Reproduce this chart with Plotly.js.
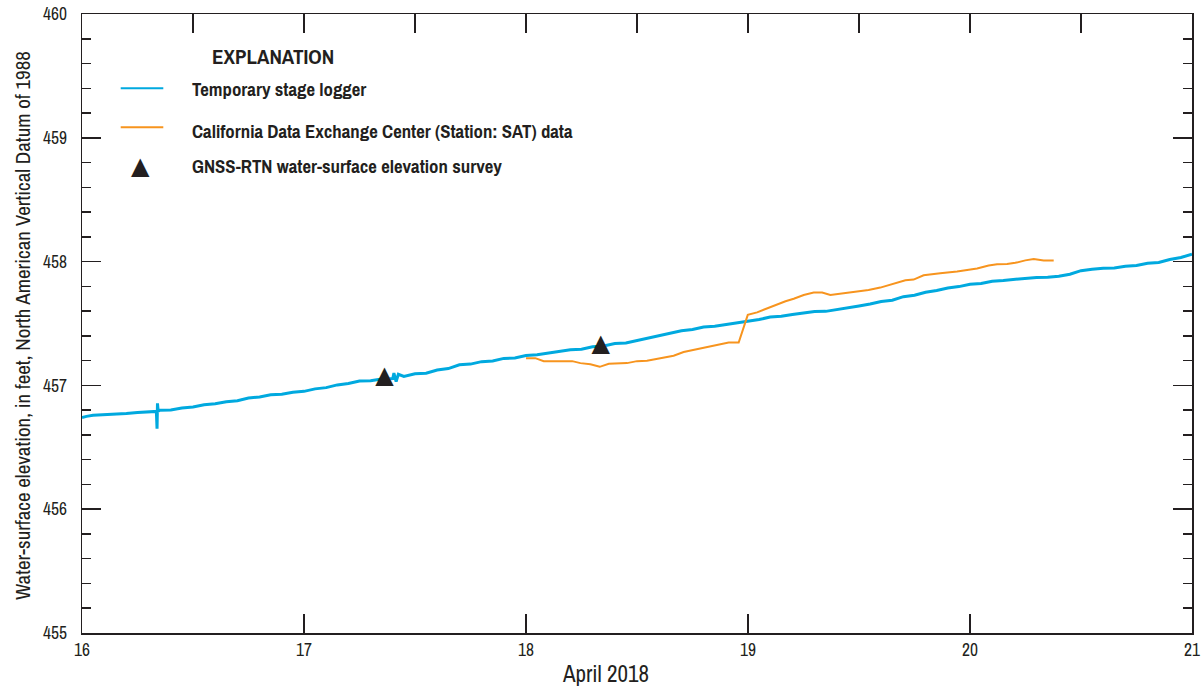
<!DOCTYPE html>
<html>
<head>
<meta charset="utf-8">
<script src="https://cdn.plot.ly/plotly-3.0.1.min.js"></script>
<style>
  html, body { margin: 0; padding: 0; background: #ffffff; }
  #chart { width: 1201px; height: 694px; }
</style>
</head>
<body>
<div id="chart"></div>
<script>
// Temporary stage logger record (day of April 2018, feet NAVD 88)
const loggerDay = [
  16.00, 16.02, 16.05, 16.10, 16.15, 16.20, 16.25, 16.30, 16.335, 16.338, 16.340, 16.343,
  16.35, 16.40, 16.45, 16.50, 16.55, 16.60, 16.65, 16.70, 16.75, 16.80, 16.85, 16.90, 16.95,
  17.00, 17.05, 17.10, 17.15, 17.20, 17.25, 17.30, 17.35, 17.40, 17.405, 17.415, 17.425,
  17.45, 17.50, 17.55, 17.60, 17.65, 17.70, 17.75, 17.80, 17.85, 17.90, 17.95,
  18.00, 18.05, 18.10, 18.15, 18.20, 18.25, 18.30, 18.35, 18.40, 18.45, 18.50, 18.55,
  18.60, 18.65, 18.70, 18.75, 18.80, 18.85, 18.90, 18.95,
  19.00, 19.05, 19.10, 19.15, 19.20, 19.25, 19.30, 19.35, 19.40, 19.45, 19.50, 19.55,
  19.60, 19.65, 19.70, 19.75, 19.80, 19.85, 19.90, 19.95,
  20.00, 20.05, 20.10, 20.15, 20.20, 20.25, 20.30, 20.35, 20.40, 20.45, 20.50, 20.55,
  20.60, 20.65, 20.70, 20.75, 20.80, 20.85, 20.90, 20.95, 21.00
];
const loggerElev = [
  456.740, 456.750, 456.758, 456.762, 456.772, 456.774, 456.782, 456.784, 456.790, 456.650, 456.855, 456.792,
  456.800, 456.802, 456.818, 456.826, 456.844, 456.852, 456.868, 456.876, 456.898, 456.906, 456.924, 456.928, 456.944,
  456.952, 456.972, 456.982, 457.004, 457.016, 457.036, 457.038, 457.052, 457.056, 457.100, 457.030, 457.090,
  457.072, 457.094, 457.098, 457.124, 457.136, 457.166, 457.172, 457.192, 457.198, 457.218, 457.222,
  457.242, 457.248, 457.262, 457.272, 457.288, 457.292, 457.312, 457.318, 457.338, 457.342, 457.362, 457.378,
  457.402, 457.418, 457.442, 457.452, 457.472, 457.478, 457.492, 457.503,
  457.522, 457.532, 457.552, 457.558, 457.572, 457.583, 457.597, 457.598, 457.612, 457.622, 457.642, 457.658,
  457.677, 457.688, 457.717, 457.728, 457.752, 457.767, 457.787, 457.798,
  457.817, 457.823, 457.842, 457.848, 457.857, 457.863, 457.872, 457.873, 457.882, 457.898, 457.927, 457.938,
  457.947, 457.948, 457.962, 457.968, 457.987, 457.993, 458.017, 458.033, 458.060
];

// California Data Exchange Center, station SAT
const cdecDay = [
  18.000, 18.042, 18.080, 18.208, 18.245, 18.290, 18.332, 18.373, 18.455, 18.500, 18.545,
  18.605, 18.665, 18.710, 18.785, 18.845, 18.913, 18.958, 18.999, 19.041, 19.101, 19.169,
  19.206, 19.251, 19.296, 19.334, 19.371, 19.416, 19.476, 19.543, 19.596, 19.656, 19.709,
  19.746, 19.791, 19.866, 19.942, 20.032, 20.084, 20.122, 20.167, 20.204, 20.249, 20.287,
  20.332, 20.377
];
const cdecElev = [
  457.220, 457.220, 457.196, 457.196, 457.180, 457.170, 457.150, 457.175, 457.180, 457.196, 457.200,
  457.220, 457.240, 457.270, 457.300, 457.325, 457.347, 457.347, 457.570, 457.590, 457.635, 457.680,
  457.700, 457.730, 457.750, 457.750, 457.730, 457.740, 457.750, 457.770, 457.790, 457.820, 457.850,
  457.855, 457.890, 457.906, 457.920, 457.944, 457.968, 457.978, 457.980, 457.990, 458.010, 458.020,
  458.008, 458.008
];

// GNSS-RTN water-surface elevation surveys
const surveyDay = [17.362, 18.337];
const surveyElev = [457.07, 457.33];

// Axis ticks
const dayTicks = [16, 17, 18, 19, 20, 21];
const elevTicks = [455, 456, 457, 458, 459, 460];

const INK = '#231f20';
const BLUE = '#00a9df';
const ORANGE = '#f7941e';
const NARROW = '"Archivo Narrow", "Roboto Condensed", "DejaVu Sans Condensed", sans-serif';

const dayRange = [dayTicks[0], dayTicks[dayTicks.length - 1]];
const elevRange = [elevTicks[0], elevTicks[elevTicks.length - 1]];

const traces = [
  {
    x: loggerDay, y: loggerElev, type: 'scatter', mode: 'lines',
    line: { color: BLUE, width: 3 }, hoverinfo: 'skip', showlegend: false
  },
  {
    // top axis shares the bottom axis range
    x: cdecDay, y: cdecElev, xaxis: 'x2', type: 'scatter', mode: 'lines',
    line: { color: ORANGE, width: 2 }, hoverinfo: 'skip', showlegend: false
  },
  {
    x: surveyDay, y: surveyElev, type: 'scatter', mode: 'text',
    text: surveyDay.map(() => '\u25B2'), textposition: 'middle center',
    textfont: { family: 'DejaVu Sans', size: 24, color: INK },
    hoverinfo: 'skip', showlegend: false
  }
];

// plot frame in pixels, plus paper-coordinate helpers for the explanation block
const L = 82, R = 1192, T = 14, B = 633;
const px = v => (v - L) / (R - L);
const py = v => (B - v) / (B - T);

// inward day ticks along the bottom edge, 19 px long, placed by fraction of the day range
const TICK_PX = 19;
const dayFrac = d => (d - dayRange[0]) / (dayRange[1] - dayRange[0]);
const bottomTicks = dayTicks.slice(1, -1).map(d => ({
  type: 'line', xref: 'paper', yref: 'paper', x0: dayFrac(d), x1: dayFrac(d), y0: 0, y1: TICK_PX / (B - T),
  line: { color: INK, width: 1.5 }, layer: 'above'
}));

const legendFont = { family: NARROW, size: 18.8, color: INK };

const layout = {
  width: 1201, height: 694,
  margin: { l: L, r: 1201 - R, t: T, b: 694 - B, pad: 0 },
  paper_bgcolor: '#ffffff', plot_bgcolor: '#ffffff',
  showlegend: false,
  font: { family: NARROW, color: INK, size: 16 },
  xaxis: {
    range: dayRange, tickvals: dayTicks, ticktext: dayTicks.map(String),
    ticks: 'inside', ticklen: TICK_PX, tickwidth: 1.5, tickcolor: INK,
    showline: true, linecolor: INK, linewidth: 1.5, mirror: true,
    showgrid: false, zeroline: false, fixedrange: true,
    tickfont: { family: NARROW, size: 17.5, color: INK }
  },
  xaxis2: {
    overlaying: 'x', side: 'top', anchor: 'y', range: dayRange, dtick: 0.5, tick0: dayRange[0],
    ticks: 'inside', ticklen: TICK_PX, tickwidth: 1.5, tickcolor: INK,
    showticklabels: false, showline: false, showgrid: false, zeroline: false, fixedrange: true
  },
  yaxis: {
    range: elevRange, tickvals: elevTicks, ticktext: elevTicks.map(String),
    ticks: 'inside', ticklen: TICK_PX, tickwidth: 1.5, tickcolor: INK,
    minor: { dtick: 0.2, tick0: elevRange[0], ticks: 'inside', ticklen: 9, tickwidth: 1.5, tickcolor: INK, showgrid: false },
    showline: true, linecolor: INK, linewidth: 1.5, mirror: 'ticks',
    showgrid: false, zeroline: false, fixedrange: true,
    tickfont: { family: NARROW, size: 17.5, color: INK },
    ticklabelstandoff: 10
  },
  shapes: [
    { type: 'line', xref: 'paper', yref: 'paper', x0: px(120.7), x1: px(163.3), y0: py(88.3), y1: py(88.3),
      line: { color: BLUE, width: 2 } },
    { type: 'line', xref: 'paper', yref: 'paper', x0: px(120.7), x1: px(163.3), y0: py(127.3), y1: py(127.3),
      line: { color: ORANGE, width: 2 } }
  ].concat(bottomTicks),
  annotations: [
    { xref: 'paper', yref: 'paper', x: px(23), y: py(326), xanchor: 'center', yanchor: 'middle', textangle: -90,
      text: 'Water-surface elevation, in feet, North American Vertical Datum of 1988',
      showarrow: false, font: { family: NARROW, size: 21, color: INK } },
    { xref: 'paper', yref: 'paper', x: px(605), y: py(673.5), xanchor: 'center', yanchor: 'middle',
      text: 'April 2018', showarrow: false, font: { family: NARROW, size: 23, color: INK } },
    { xref: 'paper', yref: 'paper', x: px(210), y: py(56.7), xanchor: 'left', yanchor: 'middle',
      text: '<b>EXPLANATION</b>', showarrow: false, font: { family: NARROW, size: 21, color: INK } },
    { xref: 'paper', yref: 'paper', x: px(190), y: py(90), xanchor: 'left', yanchor: 'middle',
      text: '<b>Temporary stage logger</b>', showarrow: false, font: legendFont },
    { xref: 'paper', yref: 'paper', x: px(190), y: py(131.3), xanchor: 'left', yanchor: 'middle',
      text: '<b>California Data Exchange Center (Station: SAT) data</b>', showarrow: false, font: legendFont },
    { xref: 'paper', yref: 'paper', x: px(190), y: py(166.7), xanchor: 'left', yanchor: 'middle',
      text: '<b>GNSS-RTN water-surface elevation survey</b>', showarrow: false, font: legendFont },
    { xref: 'paper', yref: 'paper', x: px(140.7), y: py(165.5), xanchor: 'center', yanchor: 'middle',
      text: '\u25B2', showarrow: false, font: { family: 'DejaVu Sans', size: 24, color: INK } }
  ]
};

Plotly.newPlot('chart', traces, layout, { staticPlot: true, displayModeBar: false });
</script>
</body>
</html>
